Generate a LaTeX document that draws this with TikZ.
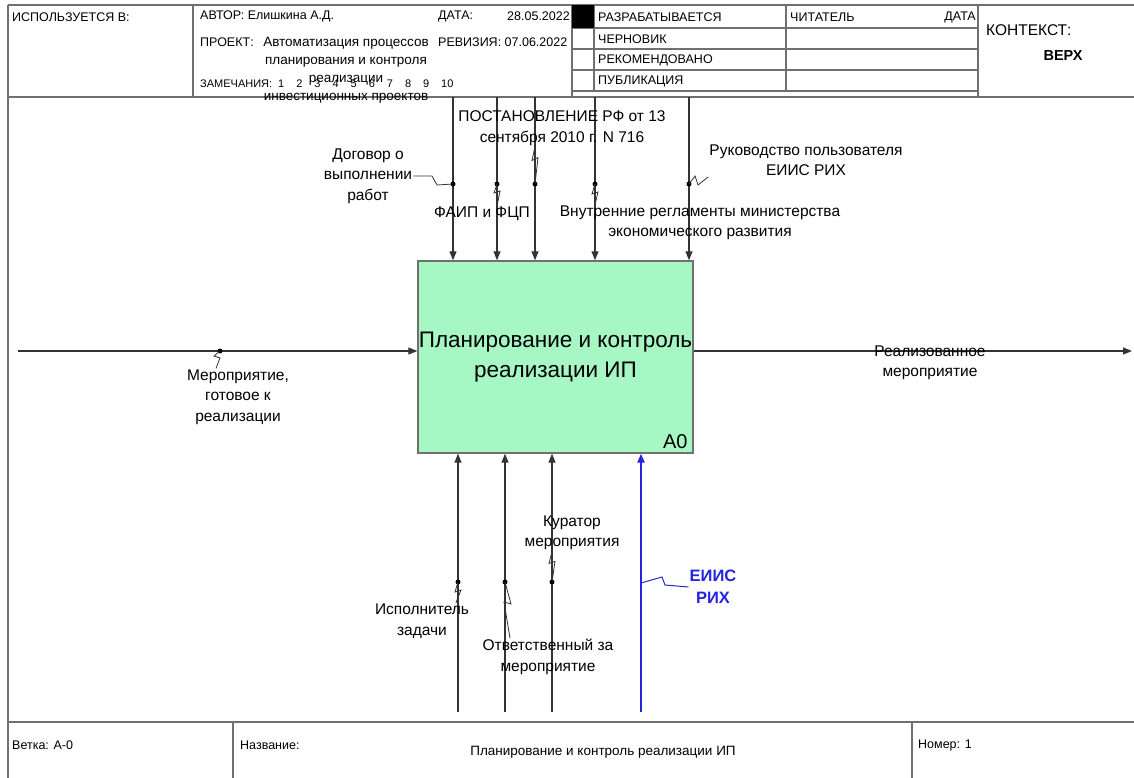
\documentclass[tikz,border=0pt]{standalone}
\usepackage{fontspec}
\setmainfont{Liberation Sans}
\usetikzlibrary{arrows.meta}
\definecolor{FrameGrey}{HTML}{707070}
\definecolor{ArrowGrey}{HTML}{333333}
\definecolor{BoxGreen}{HTML}{A6F7C3}
\definecolor{ToolBlue}{HTML}{2424E0}
\tikzset{
  frameline/.style={draw=FrameGrey, line width=1.4pt},
  hdrtext/.style={font=\fontsize{12.5}{14}\selectfont, inner sep=0pt},
  lbl/.style={font=\fontsize{15.5}{20.5}\selectfont, align=center, inner sep=1pt},
  funcbox/.style={draw=FrameGrey, fill=BoxGreen, line width=1.4pt,
                  minimum width=275pt, minimum height=192pt, inner sep=0pt,
                  align=center, font=\fontsize{22.5}{30}\selectfont},
  arrowidef/.style={-{Triangle[length=9pt,width=7pt]}, line width=1.1pt, draw=ArrowGrey},
  arrowtool/.style={-{Triangle[length=9pt,width=7pt]}, line width=2.2pt, draw=ToolBlue},
  squig/.style={line width=0.8pt, draw=ArrowGrey},
  joint/.style={circle, fill=black, inner sep=0pt, minimum size=5pt}
}

\begin{document}
\begin{tikzpicture}[x=1pt, y=-1pt]
  \useasboundingbox (0,0) rectangle (1134,778);

  % frame
  \draw[frameline] (8,5) -- (1134,5);
  \draw[frameline] (8,5) -- (8,778);
  \draw[frameline] (8,97) -- (1134,97);
  \draw[frameline] (193,5) -- (193,97);
  \draw[frameline] (572,5) -- (572,97);
  \draw[frameline] (594,5) -- (594,91);
  \draw[frameline] (786,5) -- (786,91);
  \draw[frameline] (978,5) -- (978,97);
  \foreach \ry in {28,49,70,91}
    \draw[frameline] (572,\ry) -- (978,\ry);
  \fill[black] (572,5) rectangle (594,28);
  \draw[frameline] (8,722) -- (1134,722);
  \draw[frameline] (233,722) -- (233,778);
  \draw[frameline] (912,722) -- (912,778);

  \node[hdrtext, anchor=west] (usedin)  at (12,17)  {ИСПОЛЬЗУЕТСЯ В:};
  \node[hdrtext, anchor=west] (author)  at (200,16) {АВТОР: Елишкина А.Д.};
  \node[hdrtext, anchor=west] (datelbl) at (438,16) {ДАТА:};
  \node[hdrtext, anchor=east] (dateval) at (570,16) {28.05.2022};
  \node[hdrtext, anchor=west] (projlbl) at (200,42) {ПРОЕКТ:};
  \node[hdrtext, align=center, anchor=north, font=\fontsize{13.5}{18}\selectfont]
       (projname) at (346,37) {Автоматизация процессов\\планирования и контроля\\реализации\\инвестиционных проектов};
  \node[hdrtext, anchor=west] (revision) at (438,42) {РЕВИЗИЯ: 07.06.2022};
  \node[hdrtext, anchor=west, font=\fontsize{11}{13}\selectfont] (notes) at (200,84)
       {ЗАМЕЧАНИЯ:\hspace{6pt}1\hspace{12pt}2\hspace{12pt}3\hspace{12pt}4\hspace{12pt}5\hspace{12pt}6\hspace{12pt}7\hspace{12pt}8\hspace{12pt}9\hspace{12pt}10};
  \node[hdrtext, anchor=west] (stwork)  at (598,17) {РАЗРАБАТЫВАЕТСЯ};
  \node[hdrtext, anchor=west] (stdraft) at (598,39) {ЧЕРНОВИК};
  \node[hdrtext, anchor=west] (strec)   at (598,60) {РЕКОМЕНДОВАНО};
  \node[hdrtext, anchor=west] (stpub)   at (598,81) {ПУБЛИКАЦИЯ};
  \node[hdrtext, anchor=west] (reader)  at (790,17) {ЧИТАТЕЛЬ};
  \node[hdrtext, anchor=east] (rdate)   at (976,17) {ДАТА};
  \node[anchor=west, inner sep=0pt, font=\fontsize{15.5}{17}\selectfont] (context) at (986,30) {КОНТЕКСТ:};
  \node[inner sep=0pt, font=\fontsize{14.5}{16}\selectfont\bfseries] (ctxtop) at (1063,56) {ВЕРХ};

  \node[hdrtext, anchor=west] (node)    at (12,745)  {Ветка: A-0};
  \node[hdrtext, anchor=west] (titlel)  at (240,745) {Название:};
  \node[hdrtext, font=\fontsize{13.5}{15}\selectfont] (title) at (603,752) {Планирование и контроль реализации ИП};
  \node[hdrtext, anchor=west] (number)  at (918,745) {Номер: 1};

  % function block
  \node[funcbox] (a0) at (555.5,357) {Планирование и контроль\\реализации ИП};
  \node[anchor=south east, inner sep=0pt, font=\fontsize{20}{20}\selectfont]
       (a0num) at ([xshift=-6pt, yshift=5pt]a0.south east) {A0};

  % controls
  \foreach \cx/\nm in {453/dog, 497/faip, 535/post, 595/vnut, 689/ruk} {
    \coordinate (\nm top) at (\cx,97);
    \draw[arrowidef] (\nm top) -- (\nm top |- a0.north);
    \node[joint] (\nm dot) at (\cx,184) {};
  }
  % mechanisms
  \foreach \mx/\nm in {458/isp, 505/otv, 552/kur} {
    \coordinate (\nm bot) at (\mx,712);
    \draw[arrowidef] (\nm bot) -- (\nm bot |- a0.south);
    \node[joint] (\nm dot) at (\mx,582) {};
  }
  \coordinate (eiisbot) at (641,712);
  \draw[arrowtool] (eiisbot) -- (eiisbot |- a0.south);

  % input and output
  \coordinate (inbeg) at (18,351);
  \coordinate (outend) at (1132,351);
  \draw[arrowidef] (inbeg) -- (inbeg -| a0.west);
  \draw[arrowidef] (a0.east |- outend) -- (outend);
  \node[joint] (meroddot) at (220,351) {};

  % labels
  \node[lbl] (lbldog)  at (368,176) {Договор о\\выполнении\\работ};
  \node[lbl] (lblfaip) at (482,214) {ФАИП и ФЦП};
  \node[lbl] (lblpost) at (562,128) {ПОСТАНОВЛЕНИЕ РФ от 13\\сентября 2010 г. N 716};
  \node[lbl] (lblvnut) at (700,223) {Внутренние регламенты министерства\\экономического развития};
  \node[lbl] (lblruk)  at (806,160) {Руководство пользователя\\ЕИИС РИХ};
  \node[lbl] (lblin)   at (238,397) {Мероприятие,\\готовое к\\реализации};
  \node[lbl] (lblout)  at (930,363) {Реализованное\\мероприятие};
  \node[lbl] (lblisp)  at (422,621) {Исполнитель\\задачи};
  \node[lbl] (lblotv)  at (548,657) {Ответственный за\\мероприятие};
  \node[lbl] (lblkur)  at (572,533) {Куратор\\мероприятия};
  \node[lbl, text=ToolBlue, font=\fontsize{16.5}{22}\selectfont\bfseries] (lbleiis) at (713,587) {ЕИИС\\РИХ};

  % squiggles
  \draw[squig] (dogdot.center) -- ++(-16,1) -- ++(-5,-9) -- (lbldog.east);
  \draw[squig] (faipdot.center) -- ++(-3,9) -- ++(6,-2) -- (lblfaip.north -| faipdot);
  \draw[squig] (lblpost.south -| postdot) -- ++(-3,14) -- ++(6,-3) -- (postdot.center);
  \draw[squig] (vnutdot.center) -- ++(-3,10) -- ++(6,-2) -- (lblvnut.north -| vnutdot);
  \draw[squig] (rukdot.center) -- ++(6,-8) -- ++(3,9) -- (lblruk.south west);
  \draw[squig] (meroddot.center) -- ++(-6,5) -- ++(6,2) -- (lblin.north -| 216,0);
  \draw[squig] (ispdot.center) -- ++(-3,10) -- ++(6,-2) -- (lblisp.north -| 456,0);
  \draw[squig] (otvdot.center) -- ++(6,22) -- ++(-7,-2) -- (lblotv.north -| 510,0);
  \draw[squig] (lblkur.south -| kurdot) -- ++(-3,12) -- ++(6,-2) -- (kurdot.center);
  \draw[squig, draw=ToolBlue, line width=1pt] (eiisbot |- 0,583) -- ++(21,-6) -- ++(3,8) -- (lbleiis.west);
\end{tikzpicture}
\end{document}
